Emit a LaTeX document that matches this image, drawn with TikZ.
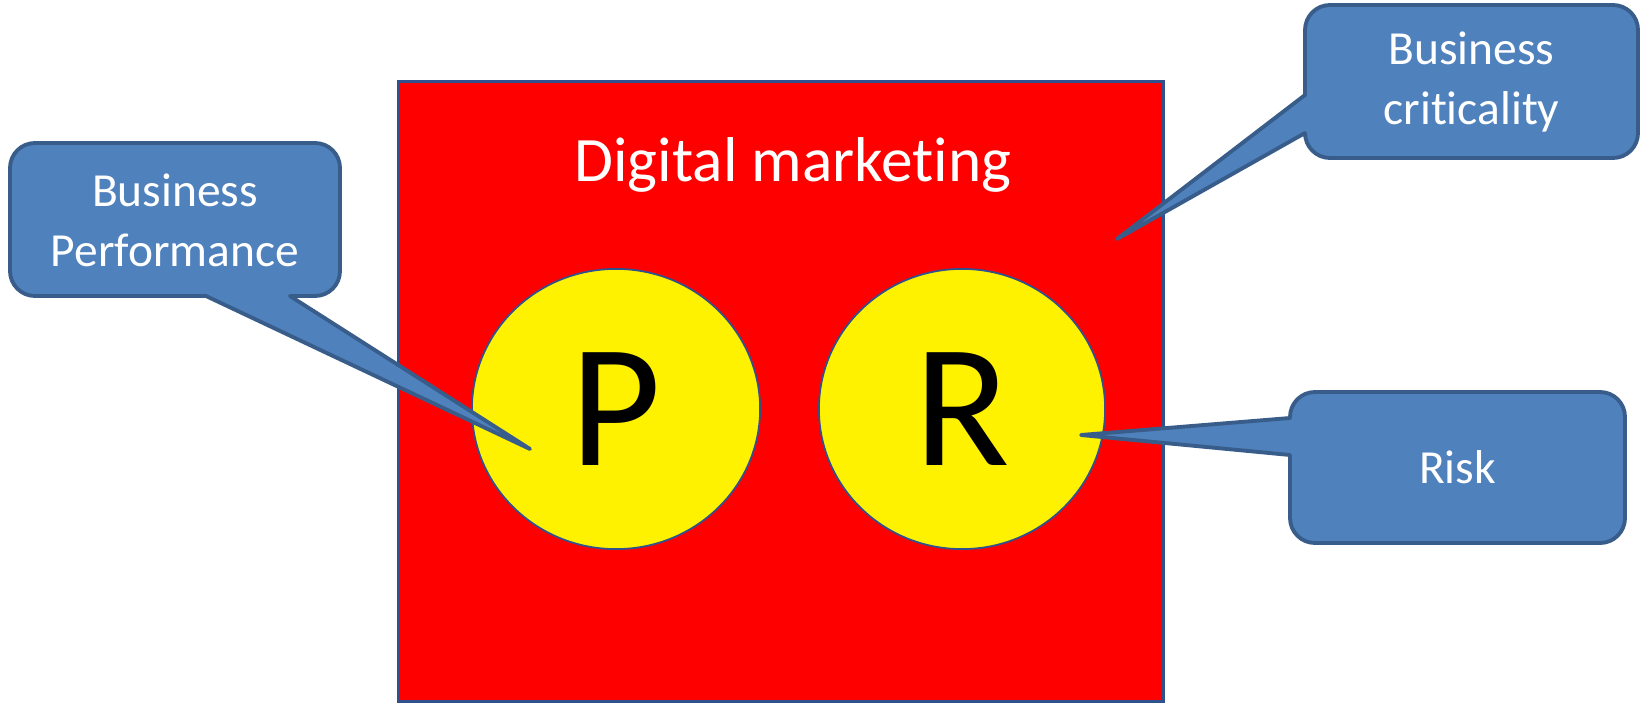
\documentclass[tikz,border=0pt]{standalone}
\usepackage{fontspec}
\setmainfont{Carlito}[Ligatures=NoCommon]
\usetikzlibrary{shapes.geometric}
\definecolor{callfill}{HTML}{4F81BD}
\definecolor{callline}{HTML}{385D8A}
\definecolor{edgeblue}{HTML}{2F528F}
\tikzset{
  callout/.style={fill=callfill, draw=callline, line width=1.1pt, line join=round},
  calltext/.style={text=white, align=center, font=\fontsize{13.5}{17}\selectfont},
  ball/.style={ellipse, fill=yellow, draw=edgeblue, line width=0.5pt, inner sep=0pt,
    minimum height=2.8cm, font=\fontsize{50}{60}\selectfont}
}
\begin{document}
\begin{tikzpicture}[x=0.01cm, y=-0.01cm]
    \useasboundingbox (0,0) rectangle (1646,703);
    % Draw the red frame with its title
    \node[draw=edgeblue, line width=0.85pt, fill=red, inner sep=0pt,
          minimum width=7.64cm, minimum height=6.19cm] (frame) at (781,391.5) {};
    \node[text=white, font=\fontsize{18}{22}\selectfont] (title) at (793,165) {Digital marketing};

    % Draw the two circles
    \node[ball, minimum width=2.88cm] (P) at (616,409) {P};
    \node[ball, minimum width=2.86cm] (R) at (962,409) {R};

    % where the callouts point to
    \coordinate (bptip) at (530,449);
    \coordinate (bctip) at (1117,239);
    \coordinate (risktip) at (1081,435);

    % Draw the callout on the left
    \draw[callout] (206,296) [rounded corners=0.25cm] -- (10,296) -- (10,143) -- (340,143)
        -- (340,296) [sharp corners] -- (290,296) -- (bptip) -- cycle;
    \node[calltext] (bp) at (175,220) {Business\\Performance};

    % Draw the callout at the top right
    \draw[callout] (1305,95) [rounded corners=0.25cm] -- (1305,5) -- (1638,5) -- (1638,158)
        -- (1305,158) [sharp corners] -- (1305,133) -- (bctip) -- cycle;
    \node[calltext] (bc) at (1471.5,82) {Business\\criticality};

    % Draw the risk callout
    \draw[callout] (1290,418) [rounded corners=0.25cm] -- (1290,392) -- (1625,392) -- (1625,543)
        -- (1290,543) [sharp corners] -- (1290,455) -- (risktip) -- cycle;
    \node[calltext] (risk) at (1457.5,467.5) {Risk};
\end{tikzpicture}
\end{document}
